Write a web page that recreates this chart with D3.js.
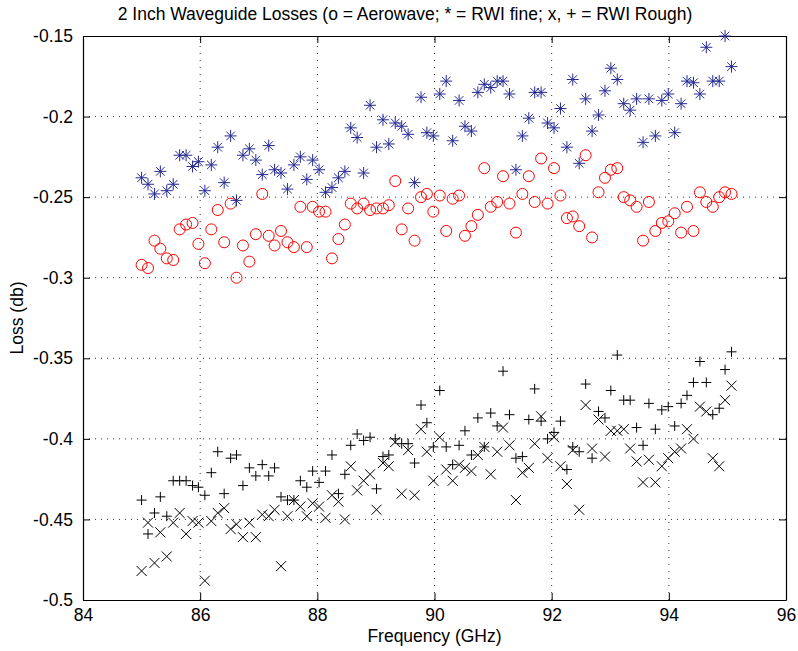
<!DOCTYPE html>
<html>
<head>
<meta charset="utf-8">
<script src="https://cdn.jsdelivr.net/npm/d3@7"></script>
<style>
  body { margin: 0; background: #fff; }
  svg { display: block; }
</style>
</head>
<body>
<div id="chart"></div>
<script>
// frequencies (GHz), shared by all four sweeps
const freq = [
  85.00, 85.11, 85.22, 85.32, 85.43, 85.54, 85.65, 85.76, 85.87, 85.97,
  86.08, 86.19, 86.30, 86.41, 86.52, 86.62, 86.73, 86.84, 86.95, 87.06,
  87.17, 87.27, 87.38, 87.49, 87.60, 87.71, 87.82, 87.92, 88.03, 88.14,
  88.25, 88.36, 88.47, 88.57, 88.68, 88.79, 88.90, 89.01, 89.12, 89.22,
  89.33, 89.44, 89.55, 89.66, 89.77, 89.87, 89.98, 90.09, 90.20, 90.31,
  90.42, 90.52, 90.63, 90.74, 90.85, 90.96, 91.07, 91.17, 91.28, 91.39,
  91.50, 91.61, 91.71, 91.82, 91.93, 92.04, 92.15, 92.26, 92.36, 92.47,
  92.58, 92.69, 92.80, 92.91, 93.01, 93.12, 93.23, 93.34, 93.45, 93.56,
  93.66, 93.77, 93.88, 93.99, 94.10, 94.21, 94.31, 94.42, 94.53, 94.64,
  94.75, 94.86, 94.96, 95.07
];

// o = Aerowave
const aerowave = [
  -0.292, -0.294, -0.277, -0.282, -0.288, -0.289, -0.270, -0.267, -0.266, -0.279,
  -0.291, -0.270, -0.258, -0.278, -0.254, -0.300, -0.280, -0.290, -0.273, -0.248,
  -0.274, -0.280, -0.271, -0.278, -0.281, -0.256, -0.281, -0.256, -0.259, -0.259,
  -0.288, -0.276, -0.267, -0.254, -0.257, -0.254, -0.258, -0.257, -0.257, -0.255,
  -0.240, -0.270, -0.257, -0.277, -0.250, -0.248, -0.259, -0.249, -0.271, -0.251,
  -0.249, -0.274, -0.268, -0.261, -0.232, -0.256, -0.253, -0.237, -0.254, -0.272,
  -0.248, -0.237, -0.253, -0.226, -0.254, -0.232, -0.249, -0.263, -0.262, -0.268,
  -0.224, -0.275, -0.247, -0.238, -0.233, -0.232, -0.250, -0.252, -0.256, -0.277,
  -0.253, -0.271, -0.266, -0.265, -0.260, -0.272, -0.256, -0.271, -0.247, -0.253,
  -0.256, -0.250, -0.247, -0.248
];

// * = RWI fine
const rwiFine = [
  -0.238, -0.242, -0.248, -0.234, -0.246, -0.242, -0.224, -0.224, -0.231, -0.228,
  -0.246, -0.230, -0.219, -0.241, -0.212, -0.252, -0.224, -0.220, -0.227, -0.236,
  -0.218, -0.233, -0.235, -0.245, -0.230, -0.225, -0.239, -0.227, -0.233, -0.247,
  -0.244, -0.238, -0.234, -0.207, -0.213, -0.235, -0.193, -0.219, -0.202, -0.217,
  -0.204, -0.206, -0.211, -0.241, -0.188, -0.210, -0.212, -0.186, -0.178, -0.215,
  -0.190, -0.206, -0.209, -0.185, -0.180, -0.182, -0.178, -0.178, -0.186, -0.233,
  -0.212, -0.201, -0.185, -0.185, -0.204, -0.207, -0.195, -0.219, -0.177, -0.229,
  -0.189, -0.209, -0.199, -0.184, -0.170, -0.177, -0.192, -0.196, -0.189, -0.216,
  -0.189, -0.212, -0.190, -0.186, -0.210, -0.192, -0.178, -0.179, -0.186, -0.157,
  -0.178, -0.178, -0.150, -0.169
];

// x = RWI rough
const rwiRoughX = [
  -0.482, -0.452, -0.477, -0.458, -0.473, -0.452, -0.446, -0.459, -0.451, -0.452,
  -0.488, -0.451, -0.446, -0.443, -0.456, -0.453, -0.461, -0.452, -0.461, -0.447,
  -0.448, -0.444, -0.479, -0.448, -0.438, -0.442, -0.448, -0.440, -0.442, -0.449,
  -0.435, -0.439, -0.450, -0.417, -0.432, -0.426, -0.422, -0.444, -0.415, -0.417,
  -0.402, -0.434, -0.407, -0.435, -0.394, -0.408, -0.426, -0.399, -0.419, -0.426,
  -0.416, -0.418, -0.420, -0.410, -0.405, -0.422, -0.408, -0.393, -0.404, -0.438,
  -0.421, -0.418, -0.403, -0.386, -0.412, -0.399, -0.417, -0.428, -0.407, -0.444,
  -0.379, -0.406, -0.388, -0.411, -0.395, -0.395, -0.394, -0.406, -0.414, -0.427,
  -0.413, -0.427, -0.417, -0.412, -0.408, -0.406, -0.394, -0.400, -0.380, -0.383,
  -0.412, -0.417, -0.376, -0.367
];

// + = RWI rough
const rwiRoughPlus = [
  -0.438, -0.459, -0.446, -0.436, -0.448, -0.426, -0.426, -0.426, -0.429, -0.430,
  -0.435, -0.421, -0.408, -0.434, -0.412, -0.410, -0.429, -0.418, -0.423, -0.416,
  -0.423, -0.418, -0.436, -0.438, -0.438, -0.426, -0.430, -0.420, -0.427, -0.420,
  -0.410, -0.434, -0.422, -0.404, -0.397, -0.401, -0.399, -0.431, -0.411, -0.410,
  -0.400, -0.403, -0.403, -0.415, -0.379, -0.390, -0.405, -0.370, -0.405, -0.416,
  -0.404, -0.395, -0.410, -0.387, -0.405, -0.384, -0.392, -0.358, -0.385, -0.412,
  -0.411, -0.388, -0.369, -0.389, -0.400, -0.396, -0.389, -0.419, -0.405, -0.408,
  -0.366, -0.412, -0.383, -0.387, -0.370, -0.348, -0.376, -0.376, -0.393, -0.404,
  -0.378, -0.394, -0.382, -0.380, -0.392, -0.378, -0.373, -0.365, -0.352, -0.365,
  -0.385, -0.381, -0.357, -0.346
];

const xTicks = [84, 86, 88, 90, 92, 94, 96];
const yTicks = [-0.5, -0.45, -0.4, -0.35, -0.3, -0.25, -0.2, -0.15];
const yTickLabels = ["-0.5", "-0.45", "-0.4", "-0.35", "-0.3", "-0.25", "-0.2", "-0.15"];

const width = 798, height = 651;
const margin = { top: 36, right: 12, bottom: 51, left: 83 };
const font = "'Liberation Sans', Arial, Helvetica, sans-serif";
const fontSize = "17.5px";
const tickLen = 7;

const svg = d3.select("#chart").append("svg")
  .attr("width", width)
  .attr("height", height);

const x = d3.scaleLinear().domain([84, 96]).range([margin.left, width - margin.right]);
const y = d3.scaleLinear().domain([-0.5, -0.15]).range([height - margin.bottom, margin.top]);

// dotted grid
svg.append("g")
  .selectAll("line")
  .data(xTicks.slice(1, -1))
  .enter()
  .append("line")
  .attr("x1", d => x(d)).attr("x2", d => x(d))
  .attr("y1", y.range()[0]).attr("y2", y.range()[1])
  .attr("stroke", "#333")
  .attr("stroke-width", 1)
  .attr("stroke-dasharray", "1,6");

svg.append("g")
  .selectAll("line")
  .data(yTicks.slice(1, -1))
  .enter()
  .append("line")
  .attr("y1", d => y(d)).attr("y2", d => y(d))
  .attr("x1", x.range()[0]).attr("x2", x.range()[1])
  .attr("stroke", "#333")
  .attr("stroke-width", 1)
  .attr("stroke-dasharray", "1,5");

// axes, ticks pointing inwards
function styleAxis(g) {
  g.selectAll("path.domain").attr("stroke", "#000").attr("stroke-width", 1.2);
  g.selectAll(".tick line").attr("stroke", "#000");
  g.selectAll("text")
    .attr("fill", "#000")
    .attr("font-family", font)
    .attr("font-size", fontSize);
}

svg.append("g")
  .attr("transform", `translate(0,${y.range()[0]})`)
  .call(d3.axisBottom(x).tickValues(xTicks).tickFormat(d3.format("d"))
    .tickSizeInner(-tickLen).tickSizeOuter(0).tickPadding(9))
  .call(styleAxis);

svg.append("g")
  .attr("transform", `translate(0,${y.range()[1]})`)
  .call(d3.axisTop(x).tickValues(xTicks).tickFormat("")
    .tickSizeInner(-tickLen).tickSizeOuter(0))
  .call(styleAxis);

svg.append("g")
  .attr("transform", `translate(${x.range()[0]},0)`)
  .call(d3.axisLeft(y).tickValues(yTicks).tickFormat((d, i) => yTickLabels[i])
    .tickSizeInner(-tickLen).tickSizeOuter(0).tickPadding(10))
  .call(styleAxis);

svg.append("g")
  .attr("transform", `translate(${x.range()[1]},0)`)
  .call(d3.axisRight(y).tickValues(yTicks).tickFormat("")
    .tickSizeInner(-tickLen).tickSizeOuter(0))
  .call(styleAxis);

// marker shapes
const plusPath = "M-5,0H5M0,-5V5";
const crossPath = "M-5,-5L5,5M-5,5L5,-5";
const starPath = "M-6,0H6M0,-6V6M-4.3,-4.3L4.3,4.3M-4.3,4.3L4.3,-4.3";

function drawMarkers(values, path, color) {
  svg.append("g")
    .selectAll("path")
    .data(values)
    .enter()
    .append("path")
    .attr("transform", (d, i) => `translate(${x(freq[i])},${y(d)})`)
    .attr("d", path)
    .attr("fill", "none")
    .attr("stroke", color)
    .attr("stroke-width", 1);
}

drawMarkers(rwiRoughX, crossPath, "#000");
drawMarkers(rwiRoughPlus, plusPath, "#000");

svg.append("g")
  .selectAll("circle")
  .data(aerowave)
  .enter()
  .append("circle")
  .attr("cx", (d, i) => x(freq[i]))
  .attr("cy", d => y(d))
  .attr("r", 5.5)
  .attr("fill", "none")
  .attr("stroke", "#f00")
  .attr("stroke-width", 1);

drawMarkers(rwiFine, starPath, "#262a94");

// labels
svg.append("text")
  .attr("x", 405)
  .attr("y", 20)
  .attr("text-anchor", "middle")
  .attr("font-family", font)
  .attr("font-size", fontSize)
  .text("2 Inch Waveguide Losses (o = Aerowave; * = RWI fine; x, + = RWI Rough)");

svg.append("text")
  .attr("x", (x.range()[0] + x.range()[1]) / 2)
  .attr("y", 642)
  .attr("text-anchor", "middle")
  .attr("font-family", font)
  .attr("font-size", fontSize)
  .text("Frequency (GHz)");

svg.append("text")
  .attr("transform", `translate(23,${(y.range()[0] + y.range()[1]) / 2}) rotate(-90)`)
  .attr("text-anchor", "middle")
  .attr("font-family", font)
  .attr("font-size", fontSize)
  .text("Loss (db)");
</script>
</body>
</html>
